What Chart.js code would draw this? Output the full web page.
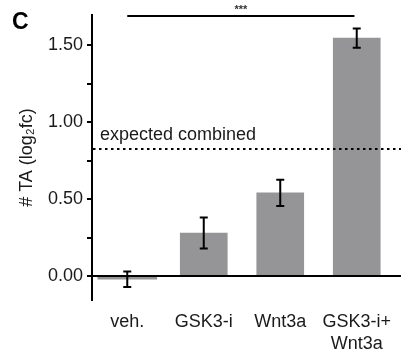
<!DOCTYPE html>
<html>
<head>
<meta charset="utf-8">
<script src="https://cdn.jsdelivr.net/npm/chart.js@4"></script>
<style>html,body{margin:0;padding:0;background:#fff;}canvas{display:block;}</style>
</head>
<body>
<canvas id="c" width="403" height="353"></canvas>
<script>
const categories = ['veh.', 'GSK3-i', 'Wnt3a', ['GSK3-i+', 'Wnt3a']];
const values = [-0.02, 0.28, 0.54, 1.545];
const errors = [0.05, 0.10, 0.085, 0.063];
const expectedCombined = 0.825;
const yTickValues = [0, 0.25, 0.5, 0.75, 1.0, 1.25, 1.5];
const yTickLabels = ['0.00', '', '0.50', '', '1.00', '', '1.50'];
const significance = { from: 0, to: 2.97, y: 1.688, label: '***' };

const FONT = "'Liberation Sans', Arial, 'DejaVu Sans', sans-serif";
Chart.defaults.font.family = FONT;
Chart.defaults.font.size = 18;
Chart.defaults.color = '#1a1a1a';

const BAR = '#959597';

const overlay = {
  id: 'overlay',
  afterDatasetsDraw(chart) {
    const ctx = chart.ctx, xs = chart.scales.x, ys = chart.scales.y, a = chart.chartArea;
    ctx.save();
    // zero line
    const y0 = ys.getPixelForValue(0);
    ctx.strokeStyle = '#000'; ctx.lineWidth = 2;
    ctx.beginPath(); ctx.moveTo(a.left, y0); ctx.lineTo(a.right, y0); ctx.stroke();
    // expected combined dotted line
    const ye = ys.getPixelForValue(expectedCombined);
    ctx.setLineDash([2.5, 3.5]);
    ctx.beginPath(); ctx.moveTo(a.left + 1, ye); ctx.lineTo(a.right, ye); ctx.stroke();
    ctx.setLineDash([]);
    ctx.fillStyle = '#1a1a1a';
    ctx.font = '18px ' + FONT;
    ctx.textAlign = 'left'; ctx.textBaseline = 'alphabetic';
    ctx.fillText('expected combined', a.left + 8, ye - 9);
    // error bars
    ctx.lineWidth = 2; ctx.strokeStyle = '#000';
    values.forEach((v, i) => {
      const x = xs.getPixelForValue(i);
      const t = ys.getPixelForValue(v + errors[i]);
      const b = ys.getPixelForValue(v - errors[i]);
      ctx.beginPath();
      ctx.moveTo(x, t); ctx.lineTo(x, b);
      ctx.moveTo(x - 4, t); ctx.lineTo(x + 4, t);
      ctx.moveTo(x - 4, b); ctx.lineTo(x + 4, b);
      ctx.stroke();
    });
    ctx.restore();
  },
  afterDraw(chart) {
    const ctx = chart.ctx, xs = chart.scales.x, ys = chart.scales.y;
    ctx.save();
    const yb = ys.getPixelForValue(significance.y);
    const x1 = xs.getPixelForValue(significance.from), x2 = xs.getPixelForValue(significance.to);
    ctx.strokeStyle = '#000'; ctx.lineWidth = 2;
    ctx.beginPath(); ctx.moveTo(x1, yb); ctx.lineTo(x2, yb); ctx.stroke();
    ctx.fillStyle = '#333';
    ctx.font = 'bold 11px ' + FONT;
    ctx.textAlign = 'center'; ctx.textBaseline = 'alphabetic';
    ctx.fillText(significance.label, (x1 + x2) / 2, yb - 3);
    // panel letter
    ctx.fillStyle = '#000';
    ctx.font = 'bold 23px ' + FONT;
    ctx.textAlign = 'left';
    ctx.fillText('C', 12, 29);
    ctx.restore();
  }
};

new Chart(document.getElementById('c'), {
  type: 'bar',
  data: {
    datasets: [
      {
        data: values.slice(0, 1).map((v, i) => ({ x: i, y: v })),
        backgroundColor: BAR, barThickness: 59, grouped: false
      },
      {
        data: values.slice(1).map((v, i) => ({ x: i + 1, y: v })),
        backgroundColor: BAR, barThickness: 47, grouped: false
      }
    ]
  },
  options: {
    responsive: false,
    animation: false,
    layout: { padding: { top: 15, left: 0, right: 0, bottom: 0 } },
    plugins: { legend: { display: false }, tooltip: { enabled: false } },
    scales: {
      x: {
        type: 'linear',
        offset: false,
        min: -0.461,
        max: 3.578,
        grid: { display: false, drawTicks: false, offset: false },
        border: { display: false },
        afterBuildTicks(s) { s.ticks = categories.map((c, i) => ({ value: i })); },
        afterFit(s) { s.height = 53; },
        ticks: {
          padding: 12,
          maxRotation: 0, autoSkip: false,
          font: { size: 18, lineHeight: 1.17 },
          color: '#1a1a1a',
          callback: (v, i) => categories[i]
        }
      },
      y: {
        min: -0.155,
        max: 1.695,
        border: { display: true, color: '#000', width: 2 },
        grid: { drawOnChartArea: false, drawTicks: true, tickLength: 5, tickColor: '#000', lineWidth: 2 },
        afterBuildTicks(s) { s.ticks = yTickValues.map(v => ({ value: v })); },
        afterFit(s) { s.width = 92; },
        ticks: {
          padding: 4,
          font: { size: 18 },
          color: '#1a1a1a',
          callback: (v, i) => yTickLabels[i]
        },
        title: {
          display: true,
          text: '# TA (log₂fc)',
          font: { size: 18 },
          color: '#1a1a1a',
          padding: { top: 16, bottom: 0 }
        }
      }
    }
  },
  plugins: [overlay]
});
</script>
</body>
</html>
